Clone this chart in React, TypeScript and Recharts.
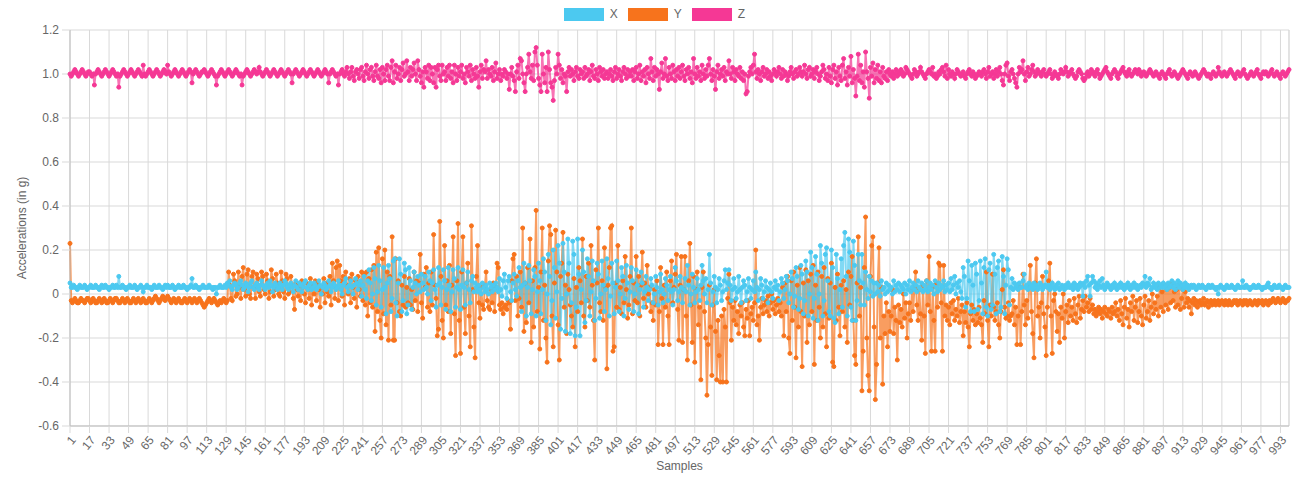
import React from 'react';
import { LineChart, Line, XAxis, YAxis, CartesianGrid, ReferenceLine } from 'recharts';

// Values in hundredths of g, one per sample (1..1000)
const accelX: number[] = [
  5,3,3,4,3,3,2,3,4,3,3,3,4,3,2,3,3,4,3,3,
  3,4,3,3,2,3,4,3,3,4,3,3,2,3,3,4,3,3,4,3,
  8,3,3,4,3,3,2,3,3,4,3,3,3,4,3,2,3,3,4,3,
  1,3,3,4,3,3,3,2,3,4,3,3,3,4,3,3,2,3,4,3,
  4,3,3,3,4,3,2,3,3,4,3,3,3,4,3,3,2,3,3,4,
  7,3,3,4,3,3,2,3,3,4,3,3,3,3,4,3,3,2,3,3,
  0,3,3,4,3,3,3,4,3,5,4,6,3,2,4,5,4,2,3,5,
  6,4,2,3,5,4,1,3,5,6,3,2,4,5,3,2,4,6,4,3,
  2,4,5,3,6,4,1,3,5,4,2,3,5,4,2,4,6,5,3,2,
  4,5,3,1,4,6,3,2,5,4,1,3,5,6,3,2,4,5,2,3,
  5,4,2,3,6,4,0,3,5,4,2,3,6,4,1,3,5,4,2,3,
  6,4,2,0,4,5,7,3,1,4,6,3,0,4,7,5,2,4,6,-1,
  4,8,2,-2,6,11,5,-3,0,12,7,-5,1,13,6,-6,2,12,3,-9,
  5,13,7,-8,-2,15,16,-4,-10,5,16,9,-8,-3,14,11,-9,-5,12,6,
  -7,3,10,5,0,8,4,1,9,5,2,8,3,0,10,6,-3,5,11,2,
  -6,4,12,5,-5,3,11,6,-7,2,12,4,-8,1,11,7,-6,3,12,2,
  -7,4,11,3,-5,5,10,2,-4,6,8,1,5,3,1,4,2,0,5,3,
  1,4,2,0,5,3,1,4,2,5,3,1,7,2,-1,6,9,3,-2,6,
  8,1,-3,5,9,2,-1,6,12,3,-8,4,14,5,-10,3,13,6,-9,2,
  11,8,-10,1,14,6,-9,2,16,10,-12,0,18,8,-14,-3,20,12,-11,1,
  22,14,-16,-2,23,10,-17,0,25,14,-18,-4,24,18,-19,-6,25,9,-19,2,
  20,10,-13,-3,16,8,-10,1,15,6,-12,-2,14,9,-11,0,15,4,-8,2,
  16,7,-10,-1,14,5,-9,3,15,6,-8,0,12,8,-10,-2,13,5,-7,1,
  12,6,-8,0,11,4,-9,2,10,5,-6,1,8,3,-3,2,7,4,-4,0,
  8,3,-5,1,9,2,-4,0,7,4,-3,2,8,1,-5,2,12,6,-3,1,
  8,3,-4,2,7,1,13,4,-5,0,9,3,-4,1,7,2,-3,4,13,6,
  0,7,-4,2,18,5,-5,1,8,3,-4,2,7,4,-3,1,6,11,2,5,
  11,4,-3,2,7,3,-2,1,8,2,-4,3,6,4,-3,1,7,3,-2,2,
  6,1,10,3,-3,2,7,4,-2,1,6,3,-4,2,5,1,-2,3,6,2,
  4,-3,1,7,5,-2,2,8,6,-4,0,10,7,-6,-1,12,8,-7,-2,13,
  9,-9,-3,15,10,-10,0,19,12,-11,-2,17,9,-12,0,22,14,-10,-3,18,
  21,6,-8,-10,20,12,-11,-13,18,7,-9,2,16,-6,22,28,8,-10,25,19,
  -6,-12,24,13,-12,-3,18,6,-5,18,5,-5,10,2,-2,8,1,6,-1,5,
  0,5,1,4,-1,6,2,3,0,5,1,4,2,3,0,6,1,4,2,5,
  1,4,3,2,5,0,4,2,6,1,3,5,2,4,1,6,3,2,5,1,
  4,2,6,1,3,5,2,4,0,6,3,1,5,2,4,3,6,1,4,2,
  5,1,7,2,4,8,0,5,3,6,1,-2,12,8,-6,-2,15,6,-8,13,
  4,-8,14,9,-7,-3,15,5,-9,12,16,-6,-10,11,14,-7,-5,18,9,-9,
  12,15,-8,-6,17,8,-9,4,16,11,-5,3,7,2,5,3,4,2,5,3,
  3,6,9,3,4,2,5,3,4,2,5,3,4,2,3,5,4,2,3,4,
  10,3,4,2,3,5,3,2,4,3,5,2,3,4,3,2,4,3,5,3,
  3,4,2,5,3,4,2,3,5,4,-1,5,3,6,8,4,-1,5,8,6,
  3,5,2,4,6,3,7,4,2,3,5,4,3,2,4,3,5,3,2,4,
  3,5,3,4,2,4,3,5,3,2,4,3,5,3,4,2,3,4,3,5,
  4,8,3,5,4,7,2,3,5,3,4,2,5,3,4,3,5,3,4,2,
  5,3,4,6,3,5,2,4,6,3,5,4,2,3,5,3,4,2,3,4,
  3,4,3,2,3,4,3,3,4,3,3,2,3,4,3,3,4,3,3,2,
  3,0,3,4,3,3,2,3,4,3,3,3,4,3,3,2,3,4,3,3,
  3,6,3,3,4,3,3,2,3,3,4,3,3,3,4,3,3,2,3,3,
  3,4,5,3,3,2,3,4,3,3,3,4,3,3,2,3,4,3,3,3,
];

const accelY: number[] = [
  23,-3,-4,-3,-2,-3,-4,-4,-3,-2,-3,-3,-4,-3,-2,-2,-3,-4,-3,-2,
  -3,-4,-4,-3,-2,-3,-4,-3,-2,-3,-4,-4,-3,-2,-3,-4,-3,-2,-2,-3,
  -4,-4,-3,-2,-3,-4,-3,-2,-3,-4,-4,-3,-2,-3,-4,-3,-2,-3,-4,-3,
  -2,-3,-4,-4,-3,-2,-3,-4,-3,-2,-1,-2,-3,-4,-3,-2,-1,-2,-3,-2,
  -1,-2,-3,-4,-3,-2,-3,-4,-3,-2,-3,-4,-4,-3,-2,-3,-4,-3,-2,-3,
  -4,-3,-2,-3,-4,-3,-2,-3,-4,-5,-6,-5,-4,-3,-2,-3,-4,-3,-2,-3,
  -4,-5,-4,-3,-4,-3,-2,-3,-4,-3,10,4,-2,-3,9,6,-1,0,10,3,
  -2,8,12,2,-1,9,11,0,-2,8,10,3,-2,9,7,1,-1,10,8,2,
  0,9,6,-2,1,11,7,-1,2,9,5,0,-1,10,6,1,-2,9,7,0,
  1,8,4,-2,-7,5,2,-1,4,-3,6,3,0,-4,5,2,-2,7,-5,4,
  0,6,-3,5,2,-6,3,0,7,-4,5,1,-1,8,-5,14,6,-2,12,15,
  -3,13,6,-1,8,-5,10,4,0,7,-4,9,3,-2,6,-6,8,2,-1,10,
  -3,9,-5,10,-10,7,-4,11,-6,13,-17,19,-8,21,-12,-20,16,-9,20,-14,
  10,-21,8,-5,26,-21,-21,16,-4,6,-8,-10,4,-5,8,-6,3,-4,7,-5,
  2,-7,10,-3,6,-8,5,18,-4,-11,9,3,12,-6,5,-8,10,-5,27,4,
  -2,-19,-16,33,8,-12,-20,22,-5,6,-8,13,-18,4,26,-9,-28,6,32,-12,
  -27,10,26,-6,-18,5,14,-10,-24,31,2,-15,-29,8,22,-4,-11,3,-5,-7,
  4,10,-3,-6,-7,2,-4,5,-8,3,14,12,-5,-7,-4,-9,-6,-5,-7,-3,
  -4,-16,6,16,18,-3,8,-10,-2,10,-6,30,-17,5,-13,12,-4,25,-22,6,
  -15,12,38,-8,3,-25,10,30,-12,4,-20,-31,15,31,27,-10,-24,5,29,10,
  -14,-30,8,14,28,-6,4,-18,9,2,-5,-10,-15,7,-24,3,-8,12,6,-4,
  25,-10,-15,8,-3,14,-6,22,4,-12,-30,11,5,30,-4,-8,6,-12,21,3,
  -34,4,12,30,31,-26,-24,5,-6,22,-7,3,-9,6,-4,17,2,-11,-5,8,
  30,-9,5,-3,17,-4,8,-10,4,19,-2,5,-6,13,0,3,-8,-4,-12,2,
  -5,6,-23,-8,12,-2,-23,4,-6,10,-10,-23,6,15,-4,3,9,18,-7,-21,
  4,17,-22,2,17,-10,-30,6,23,-5,-22,8,-31,2,10,-14,-6,-39,3,10,
  -8,-20,-46,-23,4,-15,-37,-5,2,-17,-39,-12,-28,-40,-10,-40,-7,-15,-40,-2,
  9,-4,-21,-6,-12,-3,-14,-8,-18,-5,-10,-4,-15,-19,-7,-11,-3,-19,-9,-6,
  -12,-4,20,-14,-10,-21,-6,-2,-9,-5,-3,-8,-1,-10,-4,0,-7,-3,-9,-5,
  -2,-8,-4,-10,3,-19,5,-8,8,-20,-27,6,-12,10,-6,-29,4,-15,12,-8,
  -33,5,-10,11,-22,6,-14,9,-8,13,-32,4,-12,10,-6,-20,8,-15,12,-9,
  -24,7,-11,5,14,-31,-33,3,-12,9,-6,-19,4,-8,6,-15,2,-22,10,-5,
  8,17,-12,-28,-32,5,26,-10,3,-44,-26,12,35,-20,-37,-44,8,22,26,-15,
  -48,-32,5,21,-20,3,-41,-10,-18,-4,-24,-8,-17,-10,2,-18,-6,-12,-30,-5,
  -13,-7,-15,0,-11,-4,-20,-9,-4,-12,2,-8,3,10,-5,-12,2,-9,-21,4,
  -10,-27,6,-5,17,-8,-26,3,-12,-26,5,-6,14,13,-4,-26,13,-10,-5,-12,
  -6,-14,-4,-9,-3,-12,-7,-10,-2,-13,-8,-5,-19,-8,-13,-4,-15,-24,-9,-5,
  -12,-7,-14,-9,-13,-6,-11,-14,-22,-3,-9,10,-12,-24,-5,-10,9,-6,-12,-8,
  -4,-14,-20,-8,2,11,-6,-11,-10,-4,-12,-10,-9,-3,-14,-6,-23,-10,3,-23,
  -8,9,-5,-14,-3,-11,4,13,-8,-18,-29,5,16,-10,-6,-20,-4,8,-9,-15,
  -28,-6,6,14,-10,-27,-3,0,-8,-17,-9,-22,-6,-11,0,-20,-8,-5,-13,-3,
  -10,-6,-12,-2,-9,-13,-5,-1,-11,-7,-3,-8,-1,-6,-4,-8,-2,-7,-5,-9,
  -7,-10,-8,-6,-9,-7,-11,-8,-6,-9,-10,-7,-8,-11,-6,-9,-8,-4,-10,-7,
  -12,-3,-9,-14,-6,-2,-11,-7,-15,-4,-8,-1,-12,-6,-3,-13,-8,-2,-10,-14,
  -5,-1,-11,-8,-3,-12,-6,0,-9,-4,-7,-1,-10,3,-6,1,-8,4,-5,2,
  -7,3,-4,5,-3,1,-6,2,-5,4,-7,-2,2,-6,1,-4,-2,-6,-3,-9,
  -4,-2,-5,-3,-6,-4,-3,-5,-4,-2,-5,-4,-3,-6,-4,-3,-5,-4,-3,-5,
  -4,-3,-5,-4,-3,-4,-5,-3,-4,-5,-3,-4,-5,-4,-3,-4,-3,-5,-4,-3,
  -4,-5,-3,-4,-3,-5,-4,-3,-4,-5,-4,-3,-4,-5,-3,-4,-4,-3,-5,-4,
  -3,-4,-5,-3,-4,-3,-2,-3,-4,-3,-2,-3,-4,-3,-2,-3,-4,-3,-3,-2,
];

const accelZ: number[] = [
  100,99,100,101,102,101,100,99,100,101,102,101,100,99,100,101,101,100,99,100,
  95,100,101,102,101,100,99,100,101,102,101,100,99,100,101,102,101,100,99,100,
  94,99,100,101,102,101,100,99,100,101,102,101,100,99,100,101,102,101,100,99,
  104,100,99,100,101,102,101,100,99,100,101,102,101,100,99,100,101,102,101,100,
  104,101,100,99,100,101,102,101,100,99,100,101,102,101,100,99,100,101,102,101,
  96,100,101,102,101,100,99,100,101,101,102,101,100,99,100,101,102,101,100,99,
  95,99,100,101,102,101,100,99,100,101,102,101,100,99,100,101,102,101,100,99,
  100,95,99,100,101,102,101,100,99,100,101,102,101,100,101,103,101,100,99,100,
  101,102,101,100,99,100,101,102,101,100,99,100,101,102,101,100,99,100,101,102,
  101,100,96,100,101,102,101,100,99,100,101,102,101,100,99,100,101,102,101,100,
  99,100,101,102,101,100,99,100,101,102,101,100,96,100,101,102,101,100,99,100,
  95,100,101,102,100,99,101,103,100,98,101,103,99,97,101,102,100,98,102,103,
  99,97,101,104,100,98,102,103,99,97,101,104,99,98,102,96,103,100,97,102,
  104,99,97,103,106,96,101,104,98,100,103,97,102,105,99,100,106,101,97,103,
  99,102,105,100,97,106,102,99,96,101,94,103,101,98,104,97,103,100,96,103,
  94,102,104,99,97,104,100,101,97,103,99,104,98,101,96,104,100,97,103,99,
  101,104,98,100,96,103,101,99,104,97,102,100,98,103,99,94,101,104,98,102,
  101,106,98,102,100,99,103,97,101,105,98,100,102,97,100,99,102,101,98,100,
  93,100,103,99,97,92,101,104,98,107,106,100,96,92,100,103,109,101,98,104,
  97,110,112,104,98,95,92,109,100,96,103,92,110,102,96,94,88,97,103,100,
  109,104,98,102,96,100,99,92,101,103,99,102,100,97,101,103,99,98,102,100,
  101,98,103,99,100,102,97,101,104,99,98,102,100,97,103,101,99,102,98,100,
  101,98,100,102,99,97,101,103,98,100,102,99,97,101,103,100,98,102,99,101,
  99,102,97,101,103,98,100,104,97,101,99,102,96,103,100,98,107,101,97,103,
  99,102,100,93,101,105,98,100,107,99,97,103,100,98,104,101,97,102,99,103,
  98,101,104,99,97,102,100,103,98,101,96,107,100,98,103,99,101,97,104,100,
  98,102,99,104,107,100,97,102,99,93,101,104,98,100,102,99,103,97,101,100,
  106,100,98,103,101,97,102,100,99,103,98,101,97,100,91,92,99,101,103,100,
  104,109,101,98,102,100,97,101,103,99,100,102,98,101,99,97,100,102,101,99,
  101,103,100,98,102,99,101,100,97,99,101,103,100,98,101,102,99,100,103,101,
  99,101,104,100,98,102,103,99,100,102,98,101,103,100,97,99,101,104,102,98,
  100,97,103,99,96,102,104,98,101,95,103,99,97,104,107,98,101,95,103,99,
  108,96,102,98,90,99,109,97,104,96,101,94,110,101,98,89,103,99,105,96,
  102,98,104,97,101,96,103,99,98,101,97,102,100,99,101,98,100,102,99,101,
  100,102,101,99,100,103,102,101,100,99,98,100,102,101,99,100,101,103,101,100,
  99,98,100,101,102,101,100,103,99,100,98,99,101,100,102,103,101,99,104,98,
  102,100,99,101,100,98,100,102,101,100,99,100,101,99,98,100,101,102,100,99,
  101,100,98,99,100,101,100,99,101,102,100,98,101,103,99,100,101,98,100,102,
  99,101,103,100,97,95,100,104,105,99,97,101,102,100,98,96,94,100,103,101,
  102,106,100,97,101,103,99,100,102,104,101,99,100,102,101,100,99,101,102,100,
  99,100,101,102,100,98,99,101,100,99,98,100,102,101,100,101,103,101,99,100,
  101,102,100,99,98,99,101,102,101,100,98,97,98,100,101,99,100,102,101,100,
  99,101,102,100,98,99,100,101,102,103,101,100,99,98,100,101,102,101,99,98,
  100,101,102,103,101,100,99,101,102,100,99,100,101,102,101,100,102,101,99,100,
  101,100,99,100,101,102,101,100,99,100,101,100,99,98,100,101,100,99,98,100,
  101,102,100,99,100,101,100,99,98,99,100,101,102,101,100,99,98,100,101,100,
  99,100,101,100,99,98,99,100,101,102,101,100,99,100,99,98,100,101,100,99,
  100,103,101,100,99,100,101,100,99,100,101,102,101,100,99,98,100,101,100,99,
  100,101,102,100,99,98,99,100,101,100,99,100,101,102,100,99,98,100,101,100,
  101,100,99,100,101,102,100,99,100,101,100,99,98,100,101,100,99,100,101,102,
];

const sampleNumbers: number[] = accelX.map((_, i) => i + 1);
const yTicks: number[] = [-0.6, -0.4, -0.2, 0, 0.2, 0.4, 0.6, 0.8, 1.0, 1.2];
const seriesNames: string[] = ['X', 'Y', 'Z'];
const seriesFill: Record<string, string> = { X: '#4CC9F0', Y: '#F7731C', Z: '#F53895' };
const seriesLine: Record<string, string> = {
  X: 'rgba(76,201,240,0.7)',
  Y: 'rgba(247,115,28,0.7)',
  Z: 'rgba(245,56,149,0.7)',
};

const data = sampleNumbers.map((s, i) => ({
  sample: s,
  X: accelX[i] / 100,
  Y: accelY[i] / 100,
  Z: accelZ[i] / 100,
}));

const FONT = '"Liberation Sans", Arial, Helvetica, sans-serif';
const GRID = '#d9d9d9';
const AXIS = '#bdbdbd';

const fmtY = (v: number) => (Math.abs(v) < 1e-9 ? '0' : v.toFixed(1));

export default function App() {
  const drawOrder = ['Z', 'Y', 'X'];
  return (
    <div style={{ position: 'absolute', left: 0, top: 0, width: 1309, height: 478, background: '#fff', fontFamily: FONT }}>
      <LineChart
        width={1309}
        height={478}
        data={data}
        margin={{ top: 30, right: 20, bottom: 0, left: 0 }}
      >
        <CartesianGrid stroke={GRID} strokeWidth={1} />
        <XAxis
          dataKey="sample"
          interval={15}
          height={52}
          angle={-50}
          textAnchor="end"
          tickSize={7}
          tickMargin={2}
          tick={{ fontSize: 12, fill: '#666', fontFamily: FONT }}
          tickLine={{ stroke: GRID }}
          axisLine={{ stroke: AXIS }}
        />
        <YAxis
          domain={[-0.6, 1.2]}
          ticks={yTicks}
          width={70}
          tickSize={8}
          tickMargin={3}
          tickFormatter={fmtY}
          tick={{ fontSize: 12, fill: '#666', fontFamily: FONT }}
          tickLine={{ stroke: GRID }}
          axisLine={{ stroke: AXIS }}
          allowDataOverflow
        />
        <ReferenceLine x={sampleNumbers[sampleNumbers.length - 1]} stroke={GRID} />
        {drawOrder.map((k) => (
          <Line
            key={k}
            type="linear"
            dataKey={k}
            stroke={seriesLine[k]}
            strokeWidth={2}
            dot={{ r: 2, fill: seriesFill[k], stroke: seriesFill[k], strokeWidth: 1, strokeOpacity: 1 }}
            activeDot={false}
            isAnimationActive={false}
          />
        ))}
      </LineChart>
      <div
        style={{
          position: 'absolute', top: 8, left: 0, width: 1309, display: 'flex',
          justifyContent: 'center', alignItems: 'center', fontSize: 12, color: '#666', lineHeight: '13px',
        }}
      >
        {seriesNames.map((n, i) => (
          <div key={n} style={{ display: 'flex', alignItems: 'center', marginRight: i < seriesNames.length - 1 ? 10 : 0 }}>
            <span style={{ display: 'inline-block', width: 40, height: 13, boxSizing: 'border-box', background: seriesFill[n], border: `1px solid ${seriesLine[n]}` }} />
            <span style={{ marginLeft: 6 }}>{n}</span>
          </div>
        ))}
      </div>
      <div
        style={{
          position: 'absolute', left: 22, top: 228, transform: 'translate(-50%, -50%) rotate(-90deg)',
          whiteSpace: 'nowrap', fontSize: 12, color: '#666',
        }}
      >
        Accelerations (in g)
      </div>
      <div
        style={{
          position: 'absolute', left: 679.5, top: 459, transform: 'translateX(-50%)',
          whiteSpace: 'nowrap', fontSize: 12, color: '#666',
        }}
      >
        Samples
      </div>
    </div>
  );
}
